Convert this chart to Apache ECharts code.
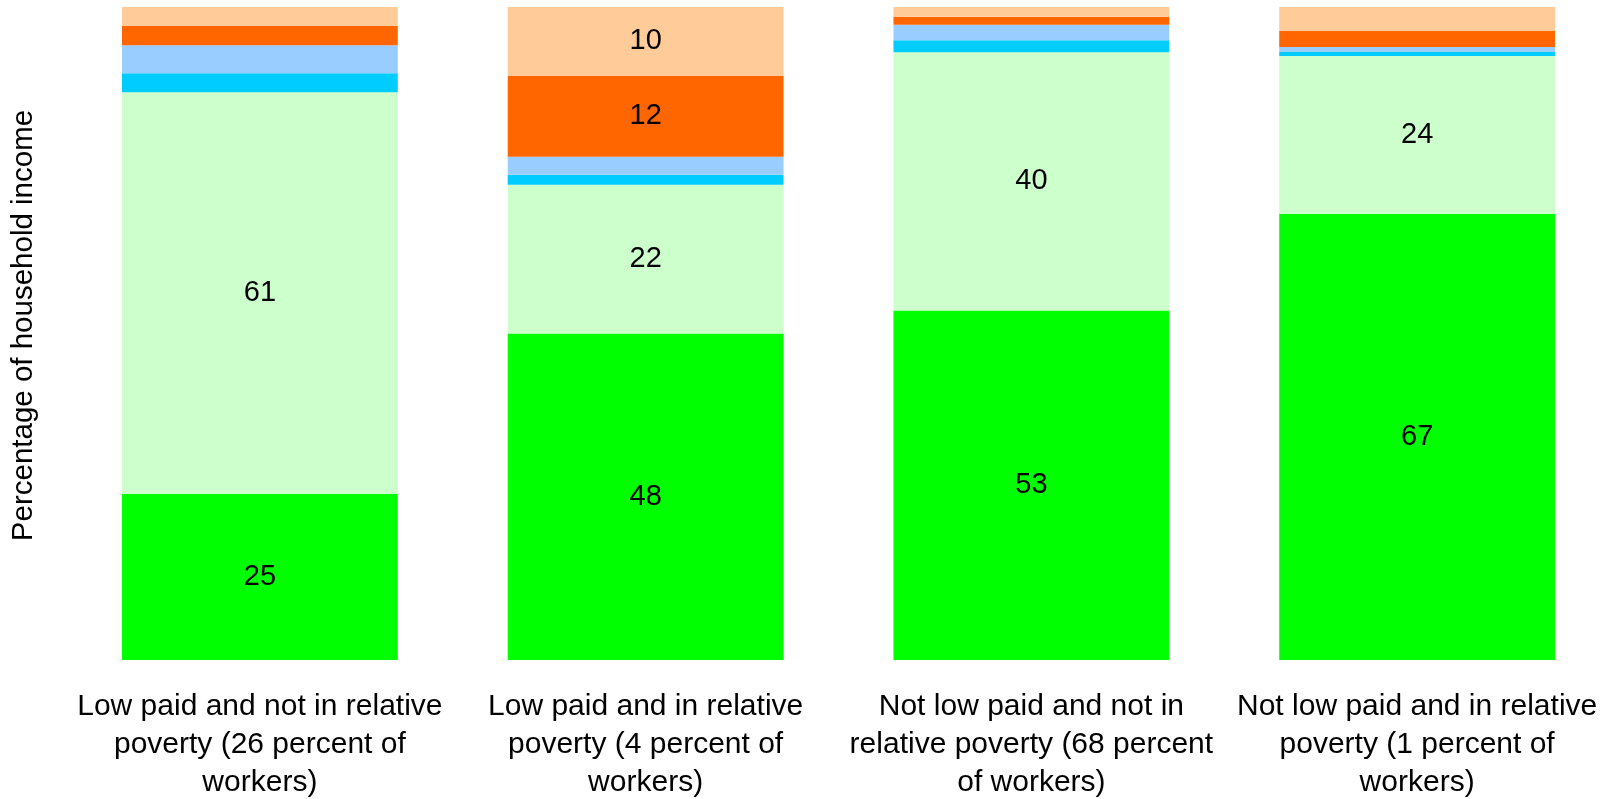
<!DOCTYPE html>
<html>
<head>
<meta charset="utf-8">
<script src="https://cdn.jsdelivr.net/npm/echarts@6/dist/echarts.min.js"></script>
<style>
html,body{margin:0;padding:0;background:#fff;}
#chart{width:1618px;height:799px;}
</style>
</head>
<body>
<div id="chart"></div>
<script>
// Categories
const categories = [
  "Low paid and not in relative\npoverty (26 percent of\nworkers)",
  "Low paid and in relative\npoverty (4 percent of\nworkers)",
  "Not low paid and not in\nrelative poverty (68 percent\nof workers)",
  "Not low paid and in relative\npoverty (1 percent of\nworkers)"
];
// Income components (bottom to top), raw shares
const seriesNames = ["Own earnings", "Other earnings", "Benefits", "Tax credits", "Private pensions", "Other income"];
const ownEarnings      = [25.2, 48.15, 53.4, 66.9];
const otherEarnings    = [60.9, 21.94, 39.5, 23.7];
const benefits         = [2.9, 1.47, 1.8, 0.6];
const taxCredits       = [4.25, 2.65, 2.4, 0.75];
const pensions         = [2.9, 11.93, 1.2, 2.4];
const otherIncome      = [2.9, 10.16, 1.5, 3.6];
const colors = ["#00FF00", "#CCFFCC", "#00CCFF", "#99CCFF", "#FF6600", "#FFCC99"];

const raw = [ownEarnings, otherEarnings, benefits, taxCredits, pensions, otherIncome];
const totals = categories.map((_, i) => raw.reduce((s, arr) => s + arr[i], 0));

const chart = echarts.init(document.getElementById('chart'));
const font = "'Liberation Sans', Arial, sans-serif";

const series = raw.map((arr, k) => ({
  name: seriesNames[k],
  type: 'bar',
  stack: 'total',
  barCategoryGap: '28.5%',
  itemStyle: { color: colors[k] },
  data: arr.map((v, i) => v / totals[i] * 100),
  label: {
    show: true,
    position: 'inside',
    color: '#000',
    fontFamily: font,
    fontSize: 29,
    formatter: p => (arr[p.dataIndex] >= 5 ? String(Math.round(arr[p.dataIndex])) : '')
  },
  emphasis: { disabled: true }
}));

chart.setOption({
  animation: false,
  backgroundColor: '#fff',
  grid: { left: 67, right: 8, top: 7, bottom: 139, containLabel: false, outerBoundsMode: 'none' },
  xAxis: {
    type: 'category',
    data: categories,
    axisLine: { show: false },
    axisTick: { show: false },
    axisLabel: {
      interval: 0,
      margin: 28,
      color: '#000',
      fontFamily: font,
      fontSize: 30,
      lineHeight: 38
    }
  },
  yAxis: {
    type: 'value',
    min: 0,
    max: 100,
    name: 'Percentage of household income',
    nameLocation: 'middle',
    nameGap: 28,
    nameTextStyle: { color: '#000', fontFamily: font, fontSize: 29.5, padding: [0, 0, 0, 16] },
    axisLine: { show: false },
    axisTick: { show: false },
    axisLabel: { show: false },
    splitLine: { show: false }
  },
  series: series
});
</script>
</body>
</html>
